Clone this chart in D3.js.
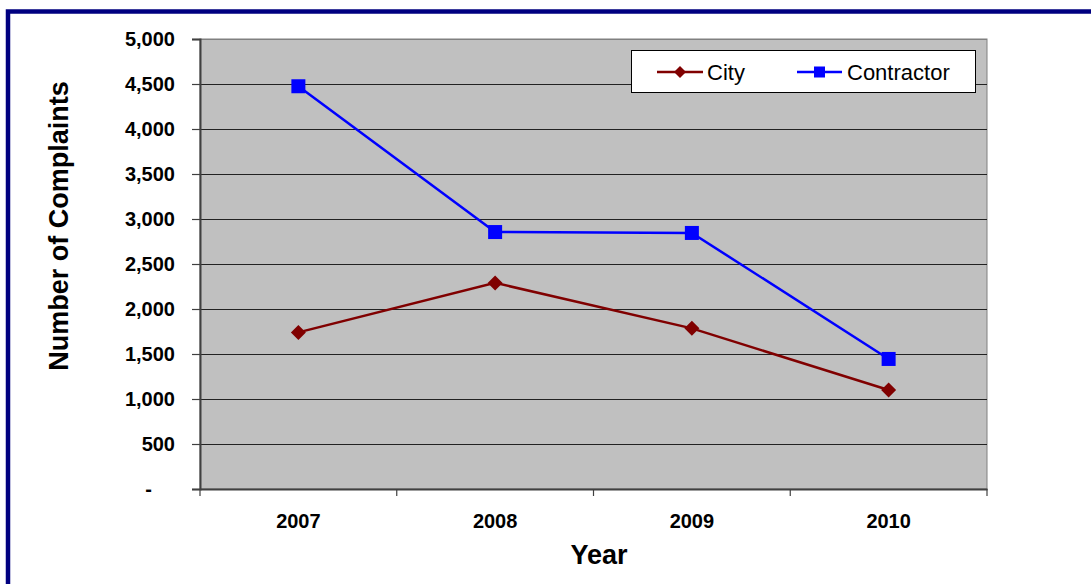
<!DOCTYPE html>
<html>
<head>
<meta charset="utf-8">
<script src="https://cdn.jsdelivr.net/npm/d3@7"></script>
<style>
  html, body { margin: 0; padding: 0; background: #fff; }
  svg { display: block; font-family: "Liberation Sans", Arial, sans-serif; }
</style>
</head>
<body>
<svg id="chart" width="1091" height="584"></svg>
<script>
// Complaints per year, by who handled the service
const years = ["2007", "2008", "2009", "2010"];
const cityValues = [1740, 2290, 1785, 1100];
const contractorValues = [4475, 2855, 2845, 1445];
const yTickValues = [0, 500, 1000, 1500, 2000, 2500, 3000, 3500, 4000, 4500, 5000];
const seriesNames = ["City", "Contractor"];

const svg = d3.select("#chart");

// Outer frame
svg.append("rect")
  .attr("x", 8).attr("y", 11.5)
  .attr("width", 1200).attr("height", 700)
  .attr("fill", "none")
  .attr("stroke", "#000080")
  .attr("stroke-width", 4.5);

const plot = { left: 200, right: 987, top: 39, bottom: 489 };

const x = d3.scaleBand().domain(years).range([plot.left, plot.right]).paddingInner(0).paddingOuter(0);
const y = d3.scaleLinear().domain([0, 5000]).range([plot.bottom, plot.top]);
const cx = d => x(d) + x.bandwidth() / 2;

// Plot area background
svg.append("rect")
  .attr("x", plot.left).attr("y", plot.top)
  .attr("width", plot.right - plot.left).attr("height", plot.bottom - plot.top)
  .attr("fill", "#C0C0C0")
  .attr("stroke", "#808080")
  .attr("stroke-width", 1);

// Horizontal gridlines
svg.append("g")
  .selectAll("line")
  .data(yTickValues.filter(v => v > 0))
  .join("line")
  .attr("x1", plot.left).attr("x2", plot.right)
  .attr("y1", d => Math.round(y(d)) + 0.5).attr("y2", d => Math.round(y(d)) + 0.5)
  .attr("stroke", d => d === 5000 ? "#808080" : "#222")
  .attr("stroke-width", 1);

// Y axis
const yAxis = d3.axisLeft(y)
  .tickValues(yTickValues)
  .tickSize(8)
  .tickPadding(17)
  .tickFormat(d => d === 0 ? "-" : d3.format(",")(d));

const gy = svg.append("g")
  .attr("transform", `translate(${plot.left},0)`)
  .call(yAxis);
gy.select(".domain").attr("stroke", "#404040").attr("stroke-width", 2);
gy.selectAll(".tick line").attr("stroke", "#404040").attr("stroke-width", 1.2);
gy.selectAll(".tick text")
  .attr("font-size", 20)
  .attr("font-weight", "bold")
  .attr("fill", "#000")
  .attr("font-family", "'Liberation Sans', Arial, sans-serif")
  .attr("dx", d => d === 0 ? -23 : 0);

// X axis: labels centred in each band, ticks on band boundaries
const xAxis = d3.axisBottom(x).tickSize(0).tickPadding(25);
const gx = svg.append("g")
  .attr("transform", `translate(0,${plot.bottom})`)
  .call(xAxis);
gx.select(".domain").attr("stroke", "#404040").attr("stroke-width", 2);
gx.selectAll(".tick text")
  .attr("font-size", 20)
  .attr("font-weight", "bold")
  .attr("fill", "#000")
  .attr("font-family", "'Liberation Sans', Arial, sans-serif");

const boundaries = years.map(d => x(d)).concat([x.range()[1]]);
svg.append("g")
  .selectAll("line")
  .data(boundaries)
  .join("line")
  .attr("x1", d => d).attr("x2", d => d)
  .attr("y1", plot.bottom).attr("y2", plot.bottom + 7)
  .attr("stroke", "#404040")
  .attr("stroke-width", 1.2);

// Axis titles
svg.append("text")
  .attr("x", 599).attr("y", 564)
  .attr("text-anchor", "middle")
  .attr("font-size", 27)
  .attr("font-weight", "bold")
  .text("Year");

svg.append("text")
  .attr("transform", "translate(68,226) rotate(-90)")
  .attr("text-anchor", "middle")
  .attr("font-size", 27)
  .attr("font-weight", "bold")
  .text("Number of Complaints");

// Series
const series = [
  { name: seriesNames[0], values: cityValues, color: "#800000", shape: "diamond" },
  { name: seriesNames[1], values: contractorValues, color: "#0000FF", shape: "square" }
];

const line = d3.line().x((d, i) => cx(years[i])).y(d => y(d));

function drawMarker(g, shape, color, px, py, size) {
  if (shape === "square") {
    g.append("rect")
      .attr("x", px - size / 2).attr("y", py - size / 2)
      .attr("width", size).attr("height", size)
      .attr("fill", color);
  } else {
    const h = size / 2;
    g.append("path")
      .attr("d", `M${px},${py - h}L${px + h},${py}L${px},${py + h}L${px - h},${py}Z`)
      .attr("fill", color);
  }
}

series.forEach(s => {
  const g = svg.append("g");
  g.append("path")
    .datum(s.values)
    .attr("d", line)
    .attr("fill", "none")
    .attr("stroke", s.color)
    .attr("stroke-width", 2.5);
  s.values.forEach((v, i) => {
    drawMarker(g, s.shape, s.color, cx(years[i]), y(v), s.shape === "square" ? 14 : 15);
  });
});

// Legend
const legend = svg.append("g");
legend.append("rect")
  .attr("x", 631.5).attr("y", 50.5)
  .attr("width", 344).attr("height", 42)
  .attr("fill", "#fff")
  .attr("stroke", "#000")
  .attr("stroke-width", 1);

const legendItems = [
  { s: series[0], x1: 657, x2: 703, tx: 707 },
  { s: series[1], x1: 797, x2: 842, tx: 847 }
];
legendItems.forEach(it => {
  const ly = 72;
  legend.append("line")
    .attr("x1", it.x1).attr("x2", it.x2)
    .attr("y1", ly).attr("y2", ly)
    .attr("stroke", it.s.color)
    .attr("stroke-width", 2.5);
  drawMarker(legend, it.s.shape, it.s.color, (it.x1 + it.x2) / 2, ly, it.s.shape === "square" ? 11 : 12);
  legend.append("text")
    .attr("x", it.tx).attr("y", ly + 7.5)
    .attr("font-size", 22)
    .attr("fill", "#000")
    .text(it.s.name);
});
</script>
</body>
</html>
